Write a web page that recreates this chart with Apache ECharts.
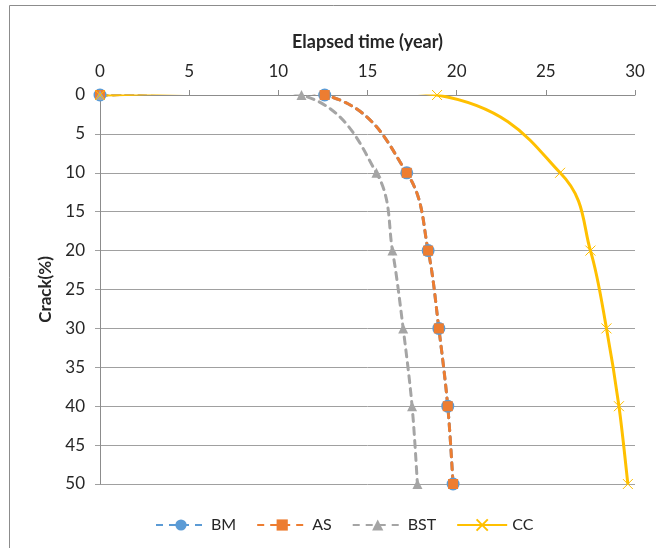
<!DOCTYPE html>
<html>
<head>
<meta charset="utf-8">
<script src="https://cdn.jsdelivr.net/npm/echarts@6/dist/echarts.min.js"></script>
<style>
  html, body { margin: 0; padding: 0; background: #fff; }
  #chart { width: 656px; height: 548px; }
</style>
</head>
<body>
<div id="chart"></div>
<script>
// Crack level (%) reached at each inspection, shared by all scenarios
const crackLevels = [0, 0, 10, 20, 30, 40, 50];

// Elapsed time (years) for each scenario to reach the crack level above
const bmYears  = [0, 12.6, 17.2, 18.4, 19.0, 19.5, 19.8];
const asYears  = [0, 12.6, 17.2, 18.4, 19.0, 19.5, 19.8];
const bstYears = [0, 11.3, 15.5, 16.4, 17.0, 17.5, 17.8];
const ccYears  = [0, 18.9, 25.8, 27.5, 28.4, 29.1, 29.6];

// Axis tick labels
const timeTicks  = [0, 5, 10, 15, 20, 25, 30];
const crackTicks = [0, 5, 10, 15, 20, 25, 30, 35, 40, 45, 50];

const FONT = 'Lato, "Open Sans", sans-serif';
const TEXT = '#262626';
const GRID = '#A0A0A0';
const AXIS = '#8C8C8C';
const DASH = [7, 6];

const COLORS = { BM: '#5B9BD5', AS: '#ED7D31', BST: '#A5A5A5', CC: '#FFC000' };

function pairs(years) {
  return years.map((t, i) => [t, crackLevels[i]]);
}

// Smoothed curve (Catmull-Rom style cubic Bezier, 1/6 tension) through the
// scenario's points, positioned via the grid's own coordinate conversion and
// clipped to the plotting area.
function curveSeries(name, years, dashed) {
  const color = COLORS[name];
  return {
    name: name + ' curve',
    type: 'custom',
    silent: true,
    z: 2,
    data: [[years[0], crackLevels[0]]],
    renderItem: function (params, api) {
      const pts = years.map((t, i) => api.coord([t, crackLevels[i]]));
      const n = pts.length;
      let d = 'M' + pts[0][0] + ' ' + pts[0][1];
      for (let i = 0; i < n - 1; i++) {
        const p0 = pts[Math.max(i - 1, 0)];
        const p1 = pts[i];
        const p2 = pts[i + 1];
        const p3 = pts[Math.min(i + 2, n - 1)];
        const c1x = p1[0] + (p2[0] - p0[0]) / 6;
        const c1y = p1[1] + (p2[1] - p0[1]) / 6;
        const c2x = p2[0] - (p3[0] - p1[0]) / 6;
        const c2y = p2[1] - (p3[1] - p1[1]) / 6;
        d += ' C' + c1x + ' ' + c1y + ' ' + c2x + ' ' + c2y + ' ' + p2[0] + ' ' + p2[1];
      }
      const cs = params.coordSys;
      return {
        type: 'path',
        shape: { pathData: d },
        style: {
          fill: null,
          stroke: color,
          lineWidth: 3,
          lineDash: dashed ? DASH : null,
          lineCap: dashed ? 'round' : 'butt',
          lineJoin: 'round'
        },
        clipPath: {
          type: 'rect',
          shape: { x: cs.x - 0.5, y: cs.y - 0.5, width: cs.width + 1, height: cs.height + 1 }
        }
      };
    }
  };
}

// Marker series; their own polyline is hidden, the smoothed curve is drawn above.
function markerSeries(name, years, symbol, size, dashed, extraItem) {
  const color = COLORS[name];
  return {
    name: name,
    type: 'line',
    z: 3,
    data: pairs(years),
    symbol: symbol,
    symbolSize: size,
    itemStyle: Object.assign({ color: color }, extraItem || {}),
    lineStyle: { color: color, width: 3, type: dashed ? DASH : 'solid', opacity: 0 }
  };
}

const xMark = 'path://M0,0L10,10M10,0L0,10';

const chart = echarts.init(document.getElementById('chart'), null, { renderer: 'canvas' });

chart.setOption({
  animation: false,
  backgroundColor: '#fff',
  textStyle: { fontFamily: FONT },
  graphic: [{
    type: 'rect',
    shape: { x: 9.5, y: 5.5, width: 700, height: 600 },
    style: { fill: 'none', stroke: '#8C8C8C', lineWidth: 1 },
    silent: true
  }],
  grid: { left: 100, right: 21, top: 95, bottom: 64 },
  legend: {
    left: 150,
    top: 512,
    itemWidth: 50,
    itemHeight: 14,
    itemGap: 20,
    textStyle: { fontFamily: FONT, fontSize: 16, color: TEXT },
    data: [
      { name: 'BM', lineStyle: { opacity: 1 } },
      { name: 'AS', lineStyle: { opacity: 1 } },
      { name: 'BST', lineStyle: { opacity: 1 } },
      { name: 'CC', lineStyle: { opacity: 1 } }
    ]
  },
  xAxis: {
    type: 'value',
    position: 'top',
    min: timeTicks[0],
    max: timeTicks[timeTicks.length - 1],
    interval: timeTicks[1] - timeTicks[0],
    name: 'Elapsed time (year)',
    nameLocation: 'middle',
    nameGap: 44,
    nameTextStyle: { fontFamily: FONT, fontSize: 18, fontWeight: 'bold', color: TEXT },
    axisLine: { show: true, onZero: false, lineStyle: { color: AXIS, width: 1 } },
    axisTick: { show: true, length: 5, lineStyle: { color: AXIS } },
    axisLabel: { fontFamily: FONT, fontSize: 17, color: TEXT, margin: 15 },
    splitLine: { show: false }
  },
  yAxis: {
    type: 'value',
    inverse: true,
    min: crackTicks[0],
    max: crackTicks[crackTicks.length - 1],
    interval: crackTicks[1] - crackTicks[0],
    name: 'Crack(%)',
    nameLocation: 'middle',
    nameGap: 45,
    nameRotate: 90,
    nameTextStyle: { fontFamily: FONT, fontSize: 17, fontWeight: 'bold', color: TEXT },
    axisLine: { show: true, onZero: false, lineStyle: { color: AXIS, width: 1 } },
    axisTick: { show: true, length: 5, lineStyle: { color: GRID } },
    axisLabel: { fontFamily: FONT, fontSize: 17, color: TEXT, margin: 15 },
    splitLine: { show: true, lineStyle: { color: GRID, width: 1 } }
  },
  series: [
    curveSeries('BM', bmYears, true),
    curveSeries('AS', asYears, true),
    curveSeries('BST', bstYears, true),
    curveSeries('CC', ccYears, false),
    markerSeries('BM', bmYears, 'circle', 13, true),
    markerSeries('AS', asYears, 'rect', 10, true),
    markerSeries('BST', bstYears, 'triangle', 10, true),
    markerSeries('CC', ccYears, xMark, 10, false, { borderColor: COLORS.CC, borderWidth: 1 })
  ]
});
</script>
</body>
</html>
